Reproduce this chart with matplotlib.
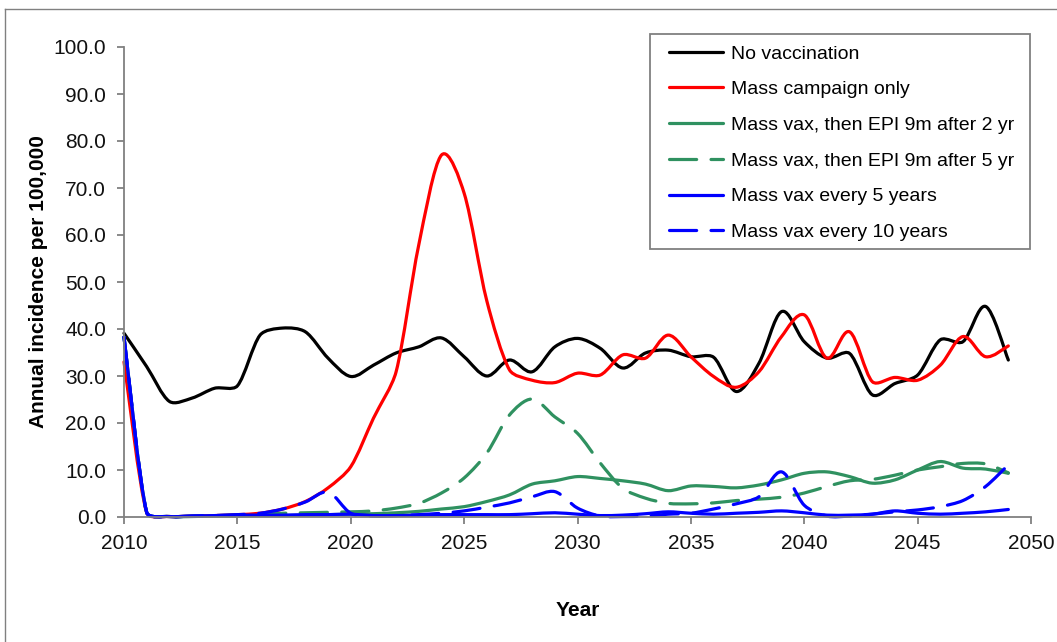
import matplotlib
matplotlib.use("Agg")
import matplotlib.pyplot as plt
import numpy as np
from matplotlib.path import Path
from matplotlib.patches import PathPatch, Rectangle
from matplotlib.lines import Line2D

dbl_width = 1057.0
dbl_height = 642.0
dbl_dpi = 100.0

plt.rcParams['font.family'] = ['Liberation Sans', 'DejaVu Sans']

years = list(range(2010, 2050))

no_vacc = [39.1, 32.0, 24.6, 25.3, 27.4, 27.9, 38.7, 40.2, 39.4, 33.8,
           29.9, 32.3, 34.9, 36.2, 38.1, 34.1, 30.0, 33.4, 30.9, 36.2,
           38.0, 35.9, 31.7, 34.9, 35.5, 34.1, 34.0, 26.7, 32.7, 43.7,
           37.3, 33.8, 34.8, 26.0, 28.4, 30.2, 37.7, 37.3, 44.8, 33.4]

mass_only = [33.0, 0.9, 0.1, 0.2, 0.3, 0.5, 0.8, 1.7, 3.3, 6.2,
             10.7, 21.0, 30.9, 57.9, 77.0, 68.9, 46.0, 31.3, 29.1, 28.6,
             30.6, 30.2, 34.5, 33.8, 38.7, 34.1, 29.9, 27.6, 30.9, 38.4,
             43.0, 33.8, 39.4, 28.8, 29.7, 29.1, 32.3, 38.4, 34.1, 36.4]

epi_2yr = [38.3, 1.0, 0.1, 0.1, 0.2, 0.2, 0.3, 0.3, 0.4, 0.5,
           0.6, 0.7, 0.9, 1.2, 1.7, 2.2, 3.3, 4.7, 7.0, 7.7,
           8.6, 8.2, 7.7, 7.0, 5.6, 6.6, 6.5, 6.2, 6.8, 7.9,
           9.3, 9.6, 8.6, 7.2, 7.9, 10.0, 11.8, 10.4, 10.2, 9.3]

epi_5yr = [38.3, 1.0, 0.1, 0.2, 0.3, 0.4, 0.6, 0.8, 0.9, 1.0,
           1.1, 1.3, 1.9, 2.9, 5.1, 8.3, 13.6, 21.7, 25.1, 21.3,
           17.8, 11.5, 6.1, 4.0, 2.9, 2.8, 3.0, 3.5, 3.8, 4.2,
           5.1, 6.5, 7.7, 8.0, 8.9, 10.0, 10.7, 11.4, 11.3, 9.4]

every_5 = [38.3, 1.0, 0.1, 0.2, 0.3, 0.4, 0.4, 0.4, 0.5, 0.5,
           0.6, 0.3, 0.3, 0.4, 0.5, 0.5, 0.5, 0.5, 0.7, 0.9,
           0.6, 0.3, 0.4, 0.7, 1.1, 0.8, 0.6, 0.8, 1.0, 1.3,
           0.9, 0.4, 0.4, 0.6, 1.3, 0.8, 0.6, 0.8, 1.1, 1.6]

every_10 = [38.3, 1.0, 0.1, 0.2, 0.3, 0.5, 0.8, 1.7, 3.2, 5.3,
            0.8, 0.2, 0.3, 0.5, 0.8, 1.3, 2.1, 3.0, 4.3, 5.4,
            1.9, 0.2, 0.1, 0.2, 0.6, 0.8, 1.7, 2.8, 4.3, 9.6,
            2.5, 0.2, 0.2, 0.6, 1.1, 1.5, 2.2, 3.5, 6.5, 11.1]

labels = ['No vaccination', 'Mass campaign only',
          'Mass vax, then EPI 9m after 2 yr', 'Mass vax, then EPI 9m after 5 yr',
          'Mass vax every 5 years', 'Mass vax every 10 years']
series = [no_vacc, mass_only, epi_2yr, epi_5yr, every_5, every_10]

c_green = '#2f9160'
colors = ['black', '#ff0000', c_green, c_green, '#0000ff', '#0000ff']
dash = (0, (8.5, 4.5))
styles = ['-', '-', '-', dash, '-', dash]

lw = 2.3

# axes box in pixels
ax_l, ax_r, ax_t, ax_b = 124.0, 1031.0, 47.0, 517.0
x_lo, x_hi, y_lo, y_hi = 2010.0, 2050.0, 0.0, 100.0
sx = (ax_r - ax_l) / (x_hi - x_lo)
sy = (ax_b - ax_t) / (y_hi - y_lo)


def smooth_path(xs, ys):
    # bezier segments with catmull-rom style tangents, limited on short chords
    p = np.column_stack([np.asarray(xs, float) * sx, np.asarray(ys, float) * sy])
    n = len(p)
    verts = [p[0]]
    codes = [Path.MOVETO]
    for i in range(n - 1):
        a = p[max(i - 1, 0)]
        b = p[i]
        c = p[i + 1]
        d = p[min(i + 2, n - 1)]
        chord = np.hypot(*(c - b))
        t1 = (c - a) / 6.0
        t2 = (d - b) / 6.0
        lim = 0.3 * chord
        for t in (t1, t2):
            ln = np.hypot(*t)
            if ln > lim and ln > 0:
                t *= lim / ln
        verts += [b + t1, c - t2, c]
        codes += [Path.CURVE4] * 3
    verts = np.array(verts)
    verts[:, 0] /= sx
    verts[:, 1] /= sy
    return Path(verts, codes)


def fx(px):
    return px / dbl_width


def fy(py):
    return 1 - py / dbl_height


fig = plt.figure(figsize=(dbl_width / dbl_dpi, dbl_height / dbl_dpi), dpi=dbl_dpi)
axes = fig.add_axes([fx(ax_l), fy(ax_b),
                     (ax_r - ax_l) / dbl_width, (ax_b - ax_t) / dbl_height])

handles = []
for vals, col, ls, lab in zip(series, colors, styles, labels):
    patch = PathPatch(smooth_path(years, vals), fill=False, edgecolor=col,
                      lw=lw, linestyle=ls, capstyle='round', joinstyle='round',
                      clip_on=False)
    axes.add_patch(patch)
    handles.append(Line2D([], [], color=col, lw=lw, linestyle=ls,
                          solid_capstyle='round', dash_capstyle='round'))

axes.set_xlim(x_lo, x_hi)
axes.set_ylim(y_lo, y_hi)
axes.set_xticks(np.arange(2010, 2051, 5))
axes.set_yticks(np.arange(0, 101, 10))
axes.set_yticklabels(['%.1f' % v for v in np.arange(0, 101, 10)])

axis_gray = '#808080'
for side in ['top', 'right']:
    axes.spines[side].set_visible(False)
for side in ['left', 'bottom']:
    axes.spines[side].set_color(axis_gray)
    axes.spines[side].set_linewidth(1.3)
axes.tick_params(axis='both', direction='out', length=5, width=1.3,
                 color=axis_gray, labelsize=15, labelcolor='#111111')
axes.tick_params(axis='x', pad=7)
axes.tick_params(axis='y', pad=8)

axes.set_xlabel('Year', fontsize=15, fontweight='bold', labelpad=35)
axes.set_ylabel('Annual incidence per 100,000', fontsize=15, fontweight='bold', labelpad=4)

# legend box drawn separately so its edges sit at fixed pixel positions
box = Rectangle((fx(650), fy(249)), fx(1030) - fx(650), fy(34) - fy(249),
                transform=fig.transFigure, facecolor='white', edgecolor=axis_gray,
                lw=1.3, clip_on=False, zorder=4.9)
axes.add_patch(box)

leg = axes.legend(handles, labels, loc='upper left',
                  bbox_to_anchor=(fx(669), fy(45)),
                  bbox_transform=fig.transFigure, borderaxespad=0,
                  fontsize=14.0, handlelength=2.8, handletextpad=0.4,
                  labelspacing=0.93, borderpad=0, frameon=False)

# outer frame edges
fig.add_artist(Line2D([fx(5), 1.0], [fy(9)] * 2,
                      transform=fig.transFigure, color=axis_gray, lw=1.0))
fig.add_artist(Line2D([fx(5)] * 2, [0.0, fy(9)],
                      transform=fig.transFigure, color=axis_gray, lw=1.0))

fig.savefig('out.png', dpi=dbl_dpi)
